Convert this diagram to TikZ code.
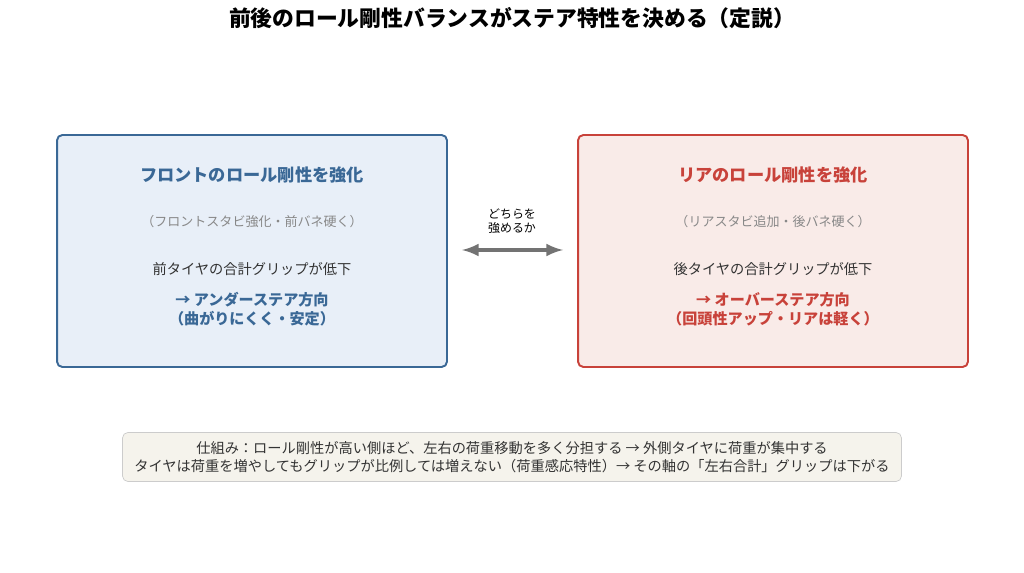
\documentclass[tikz,border=0pt]{standalone}
\usepackage{fontspec}
\setmainfont{Noto Sans CJK JP}
\usetikzlibrary{positioning}
\definecolor{frontblue}{HTML}{3A6896}
\definecolor{frontfill}{HTML}{E8EFF8}
\definecolor{rearred}{HTML}{C8423A}
\definecolor{rearfill}{HTML}{F9EBE8}
\definecolor{notefill}{HTML}{F5F3EC}
\definecolor{notegray}{HTML}{CCCCCC}
\definecolor{textgray}{HTML}{333333}
\definecolor{subgray}{HTML}{888888}

\begin{document}
\begin{tikzpicture}[
  x=0.02cm, y=-0.02cm,
  font=\fontsize{8.1}{10.3}\selectfont\color{textgray},
  panel/.style={draw, line width=1.1pt, rounded corners=3pt, minimum width=7.8cm, minimum height=4.64cm},
  head/.style={font=\fontsize{9.8}{11.5}\selectfont\bfseries},
  sub/.style={font=\fontsize{7.4}{9}\selectfont, text=subgray},
  result/.style={font=\fontsize{8.6}{10.8}\selectfont\bfseries, align=center}
]
\useasboundingbox (0,0) rectangle (1024,573);

% Title
\node[font=\fontsize{12.4}{14}\selectfont\bfseries] (title) at (512,18) {前後のロール剛性バランスがステア特性を決める（定説）};

% Front panel
\node[panel, draw=frontblue, fill=frontfill] (front) at (252,251) {};
\node[head, text=frontblue] (fhead) at (252,175) {フロントのロール剛性を強化};
\node[sub] (fsub) at (252,222) {（フロントスタビ強化・前バネ硬く）};
\node (fgrip) at (252,269) {前タイヤの合計グリップが低下};
\node[result, text=frontblue] (fres) at (252,309) {→ アンダーステア方向\\（曲がりにくく・安定）};

% Rear panel
\node[panel, draw=rearred, fill=rearfill] (rear) at (773,251) {};
\node[head, text=rearred] (rhead) at (773,175) {リアのロール剛性を強化};
\node[sub] (rsub) at (773,222) {（リアスタビ追加・後バネ硬く）};
\node (rgrip) at (773,269) {後タイヤの合計グリップが低下};
\node[result, text=rearred] (rres) at (773,309) {→ オーバーステア方向\\（回頭性アップ・リアは軽く）};

% Which to strengthen
\node[font=\fontsize{6.8}{8}\selectfont, align=center] (which) at (512,221) {どちらを\\強めるか};
\coordinate (al) at (462,250);
\coordinate (ar) at (563,250);
\draw[<->, >=latex, line width=2.2pt, draw=gray!90!black] (al) -- (ar);

% Mechanism note
\node[draw=notegray, fill=notefill, rounded corners=3pt, minimum width=15.58cm, minimum height=0.98cm, align=center] (note) at (512,457) {仕組み：ロール剛性が高い側ほど、左右の荷重移動を多く分担する → 外側タイヤに荷重が集中する\\タイヤは荷重を増やしてもグリップが比例しては増えない（荷重感応特性）→ その軸の「左右合計」グリップは下がる};
\end{tikzpicture}
\end{document}
